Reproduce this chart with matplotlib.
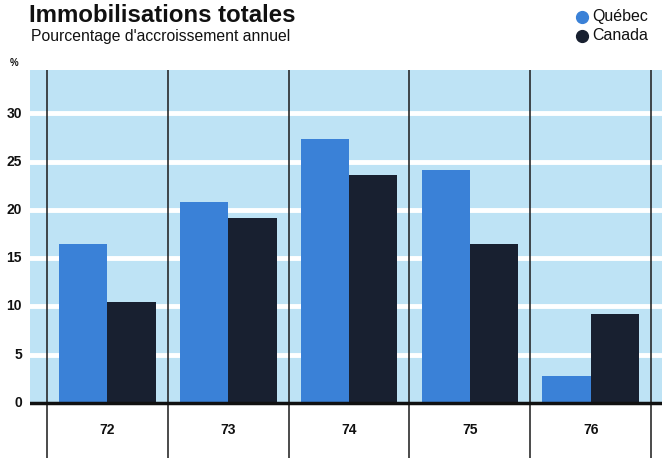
import numpy as np
import matplotlib.pyplot as plt
from matplotlib.lines import Line2D

plt.rcParams['font.family'] = ['Liberation Sans', 'DejaVu Sans']

annees = ['72', '73', '74', '75', '76']
quebec = [16.5, 20.8, 27.3, 24.1, 2.8]
canada = [10.5, 19.2, 23.6, 16.5, 9.2]
graduations = [0, 5, 10, 15, 20, 25, 30]

bleu_fond = '#bee3f5'
bleu_quebec = '#3a81d7'
noir_canada = '#182030'

W, H = 662, 458
fig = plt.figure(figsize=(W / 100, H / 100), dpi=100)
# zone du graphique en pixels: x 30..662, y 70..458
ax = fig.add_axes([30 / W, 0, 632 / W, 388 / H])

x = np.arange(len(annees))
larg = 0.4
ymin, ymax = -5.7, 34.5
ax.set_xlim(-0.64, 4.59)
ax.set_ylim(ymin, ymax)

# fond bleu au-dessus de zero, lignes blanches
ax.axhspan(0, ymax, color=bleu_fond, zorder=0)
for g in graduations[1:]:
    ax.axhline(g, color='white', lw=3.5, zorder=1)

ax.bar(x - larg / 2, quebec, larg, color=bleu_quebec, zorder=2)
ax.bar(x + larg / 2, canada, larg, color=noir_canada, zorder=2)

# separateurs verticaux entre les annees
for s in np.arange(-0.5, len(annees), 1):
    ax.axvline(s, color='#1a1a1a', lw=1.1, zorder=3)
ax.axhline(0, color='#111111', lw=2.5, zorder=4)

for xi, a in zip(x, annees):
    ax.text(xi, -2.8, a, ha='center', va='center', fontsize=10,
            fontweight='bold', color='#111111')

ax.set_xticks([])
ax.set_yticks([])
for sp in ax.spines.values():
    sp.set_visible(False)

# graduations de l'axe vertical
for g in graduations:
    ypix = 403 - g * 9.65
    fig.text(22 / W, 1 - ypix / H, str(g), ha='right', va='center',
             fontsize=10, fontweight='bold', color='#111111')
fig.text(10 / W, 1 - 63 / H, '%', ha='left', va='center', fontsize=7,
         fontweight='bold', color='#111111')

fig.text(29 / W, 1 - 15 / H, 'Immobilisations totales', ha='left',
         va='center', fontsize=17.3, fontweight='bold', color='#111111')
fig.text(31 / W, 1 - 36 / H, "Pourcentage d'accroissement annuel",
         ha='left', va='center', fontsize=11.3, color='#111111')

# legende
for i, (nom, c) in enumerate([('Québec', bleu_quebec), ('Canada', noir_canada)]):
    yp = 1 - (17 + 19 * i) / H
    fig.add_artist(Line2D([582 / W], [yp], marker='o', markersize=8.5,
                          color=c, linestyle='none',
                          transform=fig.transFigure))
    fig.text(592 / W, yp, nom, ha='left', va='center', fontsize=11.5,
             color='#111111')

fig.savefig('out.png', dpi=100)
